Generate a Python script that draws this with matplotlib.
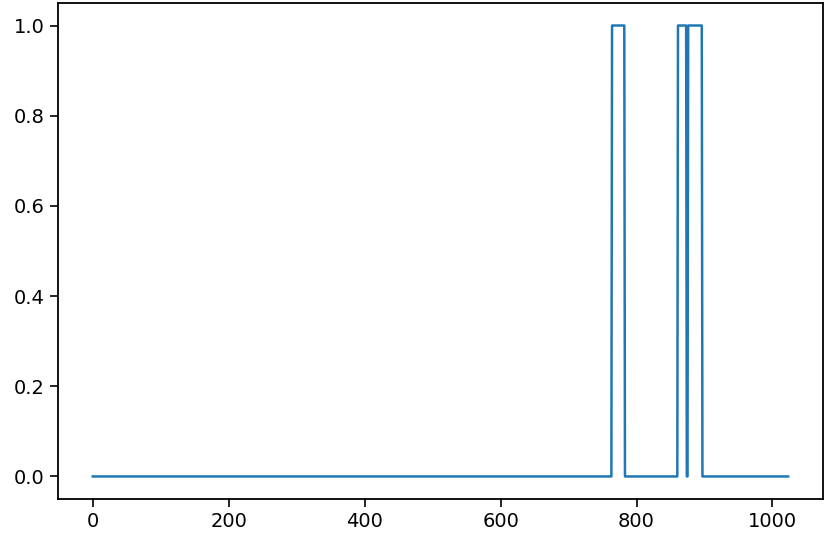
import matplotlib

matplotlib.use("Agg")
import matplotlib.pyplot as plt  # noqa: E402

# vertices of the 0/1 step signal (sample index, level)
x_pts = [0, 763, 764, 782, 783, 860, 861, 873, 874, 875, 876, 896, 897, 1023]
y_pts = [0, 0, 1, 1, 0, 0, 1, 1, 0, 0, 1, 1, 0, 0]

x_ticks = [0, 200, 400, 600, 800, 1000]
y_ticks = [0.0, 0.2, 0.4, 0.6, 0.8, 1.0]

fig = plt.figure(figsize=(8.26, 5.38), dpi=100)
ax = fig.add_axes([0.0702, 0.0725, 0.926, 0.922])
ax.plot(x_pts, y_pts, color="#1f77b4", lw=1.8)
ax.set_xticks(x_ticks)
ax.set_yticks(y_ticks)
ax.tick_params(labelsize=14, length=6, width=1.2)
for s in ax.spines.values():
    s.set_linewidth(1.3)
fig.savefig("out.png", dpi=100)
